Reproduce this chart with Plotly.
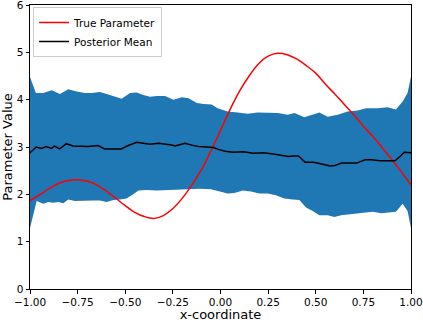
import plotly.graph_objects as go

# Credible band (upper / lower edges)
band_upper_x = [-1.0, -0.969, -0.930, -0.886, -0.843, -0.799, -0.755, -0.711, -0.676, -0.633,
                -0.598, -0.563, -0.519, -0.475, -0.440, -0.405, -0.370, -0.335, -0.291, -0.247,
                -0.203, -0.168, -0.124, -0.089, -0.047, -0.015, 0.038, 0.090, 0.143, 0.195,
                0.248, 0.300, 0.353, 0.388, 0.440, 0.475, 0.519, 0.563, 0.615, 0.668,
                0.720, 0.764, 0.825, 0.877, 0.921, 0.956, 0.982, 1.0]
band_upper = [4.48, 4.14, 4.14, 4.20, 4.12, 4.22, 4.17, 4.14, 4.14, 4.16,
              4.12, 4.07, 4.02, 4.14, 4.15, 4.10, 4.06, 4.08, 4.08, 4.00,
              4.05, 4.03, 3.93, 3.91, 3.90, 3.82, 3.75, 3.73, 3.70, 3.73,
              3.73, 3.72, 3.68, 3.72, 3.63, 3.68, 3.73, 3.64, 3.68, 3.75,
              3.77, 3.82, 3.82, 3.84, 3.79, 3.96, 4.14, 4.49]

band_lower_x = [-1.0, -0.983, -0.965, -0.930, -0.904, -0.878, -0.851, -0.825, -0.799, -0.764,
                -0.720, -0.668, -0.633, -0.598, -0.563, -0.528, -0.493, -0.458, -0.431, -0.388,
                -0.335, -0.283, -0.230, -0.178, -0.108, -0.050, -0.006, 0.038, 0.073, 0.117,
                0.160, 0.204, 0.248, 0.291, 0.335, 0.379, 0.414, 0.449, 0.484, 0.519,
                0.563, 0.598, 0.633, 0.676, 0.720, 0.755, 0.799, 0.843, 0.887, 0.921,
                0.956, 0.982, 1.0]
band_lower = [1.29, 1.58, 1.86, 1.80, 1.84, 1.82, 1.84, 1.81, 1.89, 1.86,
              1.86, 1.87, 1.87, 1.84, 1.88, 1.89, 1.91, 2.00, 2.08, 2.09,
              2.08, 2.09, 2.11, 2.11, 2.12, 2.11, 2.07, 2.02, 2.03, 2.08,
              2.06, 2.02, 2.02, 1.98, 1.91, 1.89, 1.88, 1.72, 1.65, 1.56,
              1.56, 1.52, 1.56, 1.58, 1.59, 1.61, 1.63, 1.60, 1.61, 1.63,
              1.80, 1.65, 1.29]

# Posterior mean
mean_x = [-1.0, -0.967, -0.941, -0.914, -0.888, -0.871, -0.844, -0.809, -0.774, -0.739,
          -0.696, -0.643, -0.608, -0.556, -0.521, -0.490, -0.475, -0.440, -0.405, -0.370,
          -0.326, -0.283, -0.257, -0.239, -0.221, -0.186, -0.151, -0.116, -0.072, -0.037,
          -0.011, 0.024, 0.067, 0.120, 0.172, 0.225, 0.277, 0.321, 0.356, 0.382,
          0.409, 0.444, 0.488, 0.531, 0.575, 0.601, 0.636, 0.680, 0.715, 0.759,
          0.794, 0.837, 0.872, 0.916, 0.942, 0.965, 1.0]
mean_y = [2.88, 3.00, 2.97, 3.01, 2.97, 3.02, 2.96, 3.07, 3.02, 3.01,
          3.01, 3.03, 2.96, 2.96, 2.96, 3.02, 3.04, 3.10, 3.08, 3.06,
          3.08, 3.06, 3.04, 3.02, 3.04, 3.08, 3.04, 3.01, 3.00, 2.99,
          2.95, 2.91, 2.89, 2.90, 2.87, 2.88, 2.85, 2.83, 2.80, 2.81,
          2.81, 2.68, 2.68, 2.64, 2.60, 2.61, 2.66, 2.66, 2.66, 2.73,
          2.73, 2.71, 2.71, 2.71, 2.80, 2.89, 2.88]

# True parameter
true_x = [-1.00, -0.95, -0.90, -0.85, -0.80, -0.75, -0.70, -0.65, -0.60, -0.55,
          -0.50, -0.45, -0.40, -0.35, -0.30, -0.25, -0.20, -0.15, -0.10, -0.05,
          0.00, 0.05, 0.10, 0.15, 0.20, 0.25, 0.30, 0.35, 0.40, 0.45,
          0.50, 0.55, 0.60, 0.65, 0.70, 0.75, 0.80, 0.85, 0.90, 0.95, 1.00]
true_y = [1.87, 1.99, 2.12, 2.23, 2.29, 2.31, 2.28, 2.20, 2.07, 1.92,
          1.76, 1.62, 1.53, 1.49, 1.55, 1.70, 1.92, 2.20, 2.52, 2.92,
          3.35, 3.79, 4.18, 4.50, 4.76, 4.92, 4.98, 4.95, 4.86, 4.72,
          4.56, 4.33, 4.12, 3.90, 3.68, 3.44, 3.22, 2.98, 2.73, 2.47, 2.20]

x_ticks = [-1, -0.75, -0.5, -0.25, 0, 0.25, 0.5, 0.75, 1]
y_ticks = [0, 1, 2, 3, 4, 5, 6]

fig = go.Figure()
fig.add_trace(go.Scatter(
    x=band_upper_x + band_lower_x[::-1],
    y=band_upper + band_lower[::-1],
    fill="toself", fillcolor="#1f77b4", line={"width": 0},
    mode="lines", showlegend=False, hoverinfo="skip",
))
fig.add_trace(go.Scatter(x=true_x, y=true_y, mode="lines", name="True Parameter",
                         line={"color": "#ff0000", "width": 1.5, "shape": "spline"}))
fig.add_trace(go.Scatter(x=mean_x, y=mean_y, mode="lines", name="Posterior Mean",
                         line={"color": "black", "width": 1.5}))

axis_style = dict(showline=True, linecolor="black", linewidth=1, mirror=True,
                  ticks="outside", ticklen=3.5, tickcolor="black", showgrid=False,
                  zeroline=False, automargin=False, ticklabeloverflow="allow")
fig.update_xaxes(range=[-1, 1], tickvals=x_ticks, tickformat=".2f",
                 title={"text": "x-coordinate", "standoff": 3}, **axis_style)
fig.update_yaxes(range=[0, 6], tickvals=y_ticks,
                 title={"text": "Parameter Value", "standoff": 4}, **axis_style)
fig.update_layout(
    width=423, height=322,
    margin={"l": 30, "r": 12, "t": 5, "b": 33},
    plot_bgcolor="white", paper_bgcolor="white",
    font={"family": "DejaVu Sans", "size": 10.5, "color": "black"},
    legend={"x": 0.008, "y": 0.993, "xanchor": "left", "yanchor": "top",
            "bgcolor": "rgba(255,255,255,0.8)", "bordercolor": "#cccccc", "borderwidth": 1,
            "itemwidth": 30, "font": {"size": 10.5}, "tracegroupgap": 0},
    showlegend=True,
)
# drop the default page margin so the figure sits at the window's corner
fig.write_html("out.html", config={"displayModeBar": False},
               post_script="document.body.style.margin='0';")
